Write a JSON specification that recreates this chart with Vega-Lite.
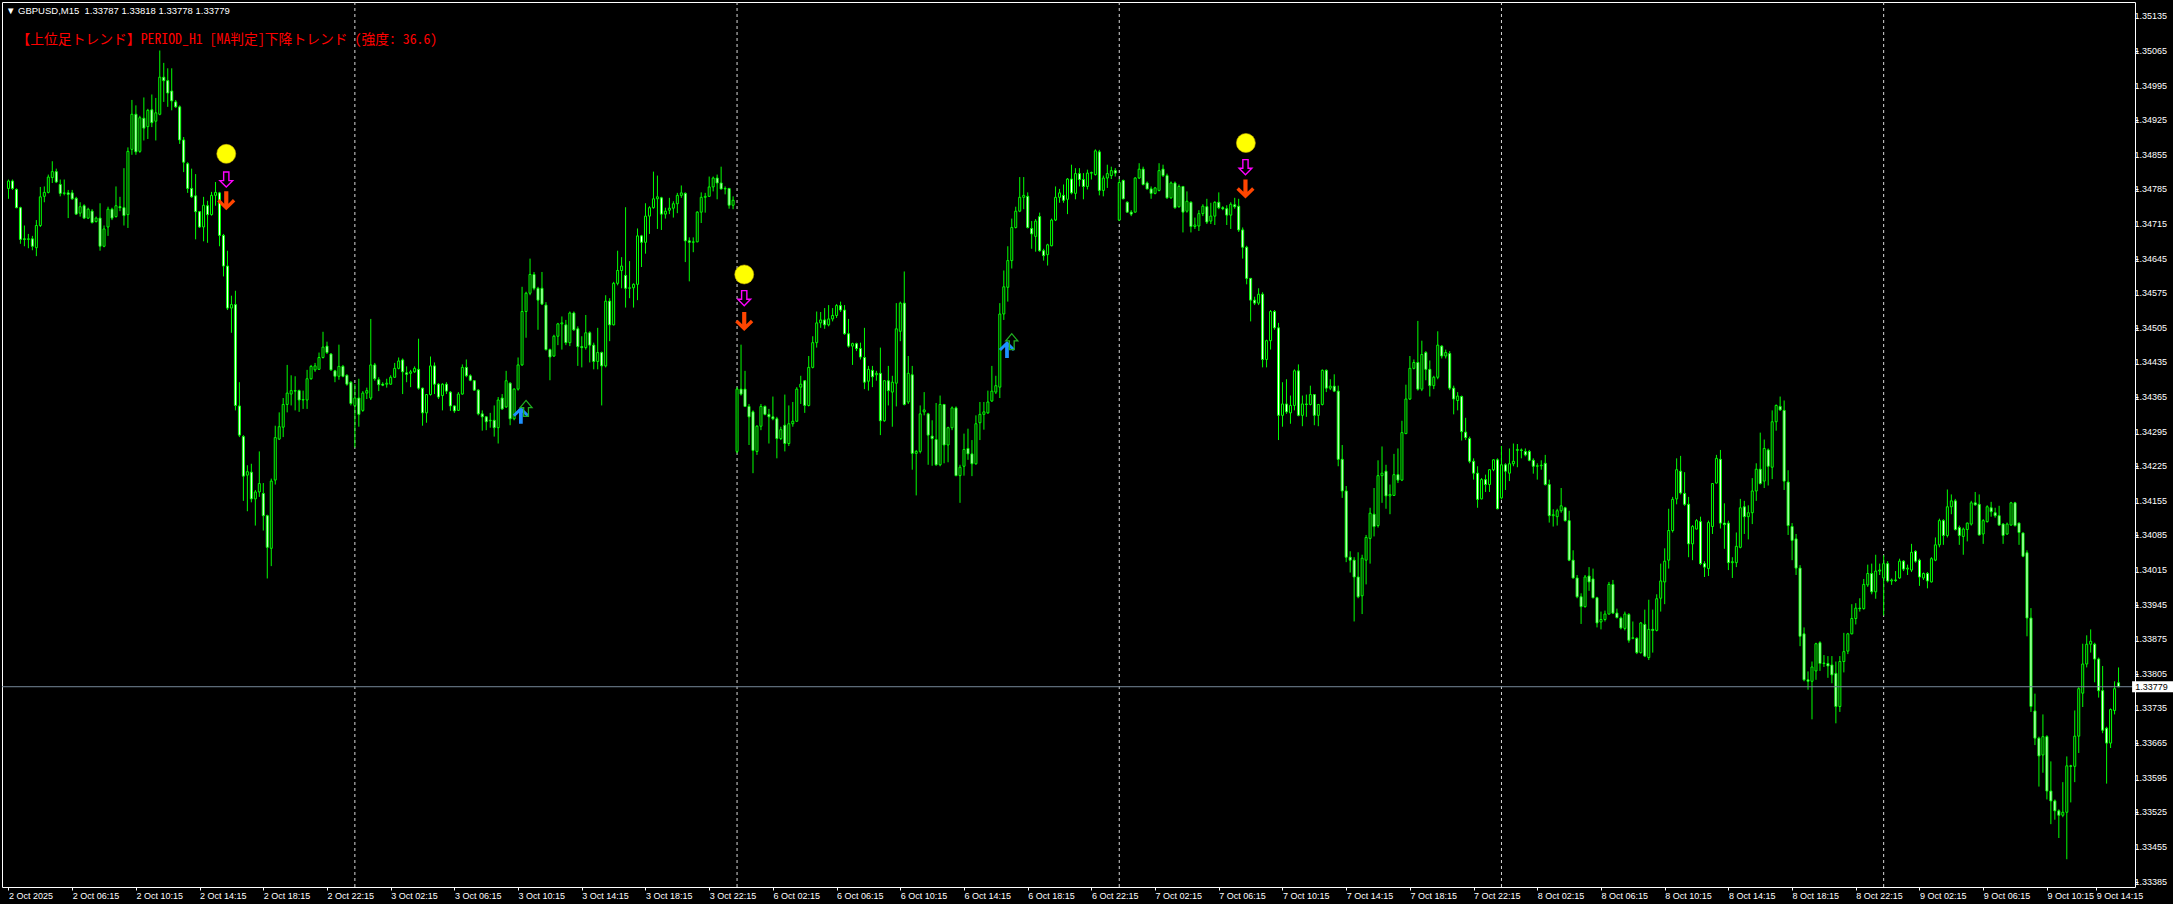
{
"$schema":"https://vega.github.io/schema/vega-lite/v6.json",
"width":2133,"height":885,
"autosize":{"type":"none"},
"padding":{"left":2,"top":2,"right":38,"bottom":17},
"background":"#000000",
"config":{"view":{"stroke":"#ffffff","strokeWidth":1,"fill":"#000000"},
"axis":{"domain":false,"grid":false,"labelColor":"#ffffff","tickColor":"#ffffff","labelFont":"Liberation Sans","labelFontSize":9,"labelOverlap":false,"labelBound":false,"labelFlush":false}},
"title":{"text":"▼\u00a0GBPUSD,M15\u00a0\u00a01.33787 1.33818 1.33778 1.33779","anchor":"start","frame":"group","orient":"top","offset":-14,"dx":4,"font":"Liberation Sans","fontSize":9.5,"fontWeight":"normal","color":"#ffffff"},
"datasets":{
"seps":[{"i":87},{"i":183},{"i":279},{"i":375},{"i":471}],
"last":[{"p":1.33779}],
"note":[{"t":"【上位足トレンド】PERIOD_H1 [MA判定]下降トレンド (強度: 36.6)"}],
"yt":[{"v":1.35135},{"v":1.35065},{"v":1.34995},{"v":1.34925},{"v":1.34855},{"v":1.34785},{"v":1.34715},{"v":1.34645},{"v":1.34575},{"v":1.34505},{"v":1.34435},{"v":1.34365},{"v":1.34295},{"v":1.34225},{"v":1.34155},{"v":1.34085},{"v":1.34015},{"v":1.33945},{"v":1.33875},{"v":1.33805},{"v":1.33735},{"v":1.33665},{"v":1.33595},{"v":1.33525},{"v":1.33455},{"v":1.33385}],
"sig":[{"i":54.7,"p":1.34857,"k":"dot"},{"i":54.7,"p":1.34805,"k":"hollowdown"},{"i":54.7,"p":1.34762,"k":"down"},
{"i":184.8,"p":1.34613,"k":"dot"},{"i":184.8,"p":1.34565,"k":"hollowdown"},{"i":184.8,"p":1.34518,"k":"down"},
{"i":310.8,"p":1.34879,"k":"dot"},{"i":310.7,"p":1.34830,"k":"hollowdown"},{"i":310.7,"p":1.34786,"k":"down"},
{"i":128.7,"p":1.34328,"k":"up"},{"i":130,"p":1.34342,"k":"hollowup"},
{"i":250.8,"p":1.34461,"k":"up"},{"i":252,"p":1.34477,"k":"hollowup"}],
"bars":[
{"i":0,"o":1.34787,"h":1.34805,"l":1.34766,"c":1.34802},
{"i":1,"o":1.34802,"h":1.34805,"l":1.34784,"c":1.34787},
{"i":2,"o":1.34785,"h":1.34787,"l":1.34747,"c":1.34748},
{"i":3,"o":1.34748,"h":1.34750,"l":1.34675,"c":1.34684},
{"i":4,"o":1.34685,"h":1.34712,"l":1.34670,"c":1.34684},
{"i":5,"o":1.34684,"h":1.34695,"l":1.34666,"c":1.34685},
{"i":6,"o":1.34685,"h":1.34691,"l":1.34662,"c":1.34670},
{"i":7,"o":1.34667,"h":1.34723,"l":1.34650,"c":1.34712},
{"i":8,"o":1.34712,"h":1.34790,"l":1.34709,"c":1.34770},
{"i":9,"o":1.34771,"h":1.34791,"l":1.34759,"c":1.34779},
{"i":10,"o":1.34779,"h":1.34815,"l":1.34777,"c":1.34810},
{"i":11,"o":1.34809,"h":1.34842,"l":1.34798,"c":1.34821},
{"i":12,"o":1.34821,"h":1.34827,"l":1.34798,"c":1.34800},
{"i":13,"o":1.34795,"h":1.34805,"l":1.34771,"c":1.34777},
{"i":14,"o":1.34777,"h":1.34805,"l":1.34773,"c":1.34778},
{"i":15,"o":1.34778,"h":1.34784,"l":1.34727,"c":1.34775},
{"i":16,"o":1.34778,"h":1.34784,"l":1.34764,"c":1.34766},
{"i":17,"o":1.34767,"h":1.34770,"l":1.34734,"c":1.34735},
{"i":18,"o":1.34737,"h":1.34759,"l":1.34730,"c":1.34750},
{"i":19,"o":1.34752,"h":1.34755,"l":1.34725,"c":1.34727},
{"i":20,"o":1.34727,"h":1.34748,"l":1.34725,"c":1.34745},
{"i":21,"o":1.34741,"h":1.34745,"l":1.34716,"c":1.34718},
{"i":22,"o":1.34720,"h":1.34730,"l":1.34718,"c":1.34727},
{"i":23,"o":1.34727,"h":1.34757,"l":1.34661,"c":1.34670},
{"i":24,"o":1.34670,"h":1.34712,"l":1.34668,"c":1.34705},
{"i":25,"o":1.34709,"h":1.34750,"l":1.34691,"c":1.34745},
{"i":26,"o":1.34745,"h":1.34748,"l":1.34723,"c":1.34727},
{"i":27,"o":1.34730,"h":1.34791,"l":1.34728,"c":1.34752},
{"i":28,"o":1.34750,"h":1.34770,"l":1.34741,"c":1.34748},
{"i":29,"o":1.34748,"h":1.34828,"l":1.34712,"c":1.34732},
{"i":30,"o":1.34734,"h":1.34870,"l":1.34707,"c":1.34862},
{"i":31,"o":1.34866,"h":1.34966,"l":1.34855,"c":1.34937},
{"i":32,"o":1.34937,"h":1.34955,"l":1.34855,"c":1.34861},
{"i":33,"o":1.34862,"h":1.34934,"l":1.34859,"c":1.34930},
{"i":34,"o":1.34929,"h":1.34971,"l":1.34884,"c":1.34909},
{"i":35,"o":1.34912,"h":1.34948,"l":1.34887,"c":1.34945},
{"i":36,"o":1.34946,"h":1.34977,"l":1.34911,"c":1.34920},
{"i":37,"o":1.34923,"h":1.34970,"l":1.34884,"c":1.34940},
{"i":38,"o":1.34937,"h":1.35066,"l":1.34935,"c":1.35012},
{"i":39,"o":1.35012,"h":1.35041,"l":1.34962,"c":1.35005},
{"i":40,"o":1.35005,"h":1.35030,"l":1.34952,"c":1.34980},
{"i":41,"o":1.34984,"h":1.35030,"l":1.34945,"c":1.34964},
{"i":42,"o":1.34962,"h":1.34966,"l":1.34950,"c":1.34952},
{"i":43,"o":1.34952,"h":1.34955,"l":1.34877,"c":1.34885},
{"i":44,"o":1.34885,"h":1.34891,"l":1.34820,"c":1.34840},
{"i":45,"o":1.34837,"h":1.34840,"l":1.34778,"c":1.34787},
{"i":46,"o":1.34787,"h":1.34827,"l":1.34768,"c":1.34770},
{"i":47,"o":1.34772,"h":1.34816,"l":1.34684,"c":1.34740},
{"i":48,"o":1.34740,"h":1.34741,"l":1.34707,"c":1.34709},
{"i":49,"o":1.34709,"h":1.34770,"l":1.34680,"c":1.34753},
{"i":50,"o":1.34752,"h":1.34762,"l":1.34677,"c":1.34734},
{"i":51,"o":1.34734,"h":1.34780,"l":1.34732,"c":1.34773},
{"i":52,"o":1.34773,"h":1.34800,"l":1.34752,"c":1.34779},
{"i":53,"o":1.34778,"h":1.34780,"l":1.34670,"c":1.34692},
{"i":54,"o":1.34692,"h":1.34695,"l":1.34609,"c":1.34630},
{"i":55,"o":1.34630,"h":1.34661,"l":1.34541,"c":1.34545},
{"i":56,"o":1.34545,"h":1.34570,"l":1.34495,"c":1.34552},
{"i":57,"o":1.34552,"h":1.34580,"l":1.34338,"c":1.34348},
{"i":58,"o":1.34347,"h":1.34395,"l":1.34284,"c":1.34288},
{"i":59,"o":1.34285,"h":1.34288,"l":1.34155,"c":1.34205},
{"i":60,"o":1.34207,"h":1.34227,"l":1.34134,"c":1.34214},
{"i":61,"o":1.34213,"h":1.34230,"l":1.34152,"c":1.34159},
{"i":62,"o":1.34159,"h":1.34177,"l":1.34105,"c":1.34173},
{"i":63,"o":1.34173,"h":1.34255,"l":1.34163,"c":1.34190},
{"i":64,"o":1.34170,"h":1.34191,"l":1.34095,"c":1.34125},
{"i":65,"o":1.34125,"h":1.34127,"l":1.33998,"c":1.34061},
{"i":66,"o":1.34059,"h":1.34200,"l":1.34023,"c":1.34195},
{"i":67,"o":1.34197,"h":1.34307,"l":1.34188,"c":1.34283},
{"i":68,"o":1.34280,"h":1.34334,"l":1.34278,"c":1.34305},
{"i":69,"o":1.34304,"h":1.34363,"l":1.34284,"c":1.34350},
{"i":70,"o":1.34350,"h":1.34430,"l":1.34334,"c":1.34373},
{"i":71,"o":1.34371,"h":1.34409,"l":1.34348,"c":1.34378},
{"i":72,"o":1.34378,"h":1.34407,"l":1.34338,"c":1.34377},
{"i":73,"o":1.34378,"h":1.34380,"l":1.34335,"c":1.34359},
{"i":74,"o":1.34359,"h":1.34378,"l":1.34341,"c":1.34360},
{"i":75,"o":1.34359,"h":1.34420,"l":1.34341,"c":1.34402},
{"i":76,"o":1.34402,"h":1.34430,"l":1.34400,"c":1.34427},
{"i":77,"o":1.34420,"h":1.34434,"l":1.34416,"c":1.34428},
{"i":78,"o":1.34421,"h":1.34455,"l":1.34420,"c":1.34445},
{"i":79,"o":1.34445,"h":1.34497,"l":1.34443,"c":1.34466},
{"i":80,"o":1.34468,"h":1.34477,"l":1.34452,"c":1.34455},
{"i":81,"o":1.34452,"h":1.34454,"l":1.34418,"c":1.34420},
{"i":82,"o":1.34418,"h":1.34420,"l":1.34395,"c":1.34407},
{"i":83,"o":1.34407,"h":1.34471,"l":1.34400,"c":1.34427},
{"i":84,"o":1.34427,"h":1.34430,"l":1.34405,"c":1.34407},
{"i":85,"o":1.34409,"h":1.34411,"l":1.34388,"c":1.34391},
{"i":86,"o":1.34395,"h":1.34397,"l":1.34348,"c":1.34352},
{"i":87,"o":1.34348,"h":1.34391,"l":1.34263,"c":1.34363},
{"i":88,"o":1.34363,"h":1.34402,"l":1.34305,"c":1.34330},
{"i":89,"o":1.34338,"h":1.34377,"l":1.34335,"c":1.34373},
{"i":90,"o":1.34373,"h":1.34384,"l":1.34361,"c":1.34378},
{"i":91,"o":1.34363,"h":1.34523,"l":1.34359,"c":1.34430},
{"i":92,"o":1.34430,"h":1.34434,"l":1.34398,"c":1.34402},
{"i":93,"o":1.34400,"h":1.34405,"l":1.34377,"c":1.34390},
{"i":94,"o":1.34391,"h":1.34395,"l":1.34387,"c":1.34389},
{"i":95,"o":1.34391,"h":1.34402,"l":1.34384,"c":1.34393},
{"i":96,"o":1.34391,"h":1.34409,"l":1.34390,"c":1.34405},
{"i":97,"o":1.34405,"h":1.34434,"l":1.34404,"c":1.34423},
{"i":98,"o":1.34423,"h":1.34445,"l":1.34421,"c":1.34438},
{"i":99,"o":1.34440,"h":1.34443,"l":1.34371,"c":1.34416},
{"i":100,"o":1.34414,"h":1.34427,"l":1.34395,"c":1.34411},
{"i":101,"o":1.34413,"h":1.34420,"l":1.34385,"c":1.34416},
{"i":102,"o":1.34416,"h":1.34427,"l":1.34414,"c":1.34423},
{"i":103,"o":1.34421,"h":1.34483,"l":1.34380,"c":1.34383},
{"i":104,"o":1.34383,"h":1.34384,"l":1.34307,"c":1.34333},
{"i":105,"o":1.34333,"h":1.34371,"l":1.34313,"c":1.34370},
{"i":106,"o":1.34370,"h":1.34447,"l":1.34368,"c":1.34428},
{"i":107,"o":1.34428,"h":1.34435,"l":1.34371,"c":1.34391},
{"i":108,"o":1.34391,"h":1.34393,"l":1.34361,"c":1.34365},
{"i":109,"o":1.34368,"h":1.34393,"l":1.34338,"c":1.34391},
{"i":110,"o":1.34391,"h":1.34395,"l":1.34371,"c":1.34377},
{"i":111,"o":1.34375,"h":1.34377,"l":1.34337,"c":1.34347},
{"i":112,"o":1.34347,"h":1.34348,"l":1.34333,"c":1.34337},
{"i":113,"o":1.34338,"h":1.34375,"l":1.34337,"c":1.34371},
{"i":114,"o":1.34371,"h":1.34431,"l":1.34370,"c":1.34425},
{"i":115,"o":1.34425,"h":1.34441,"l":1.34405,"c":1.34408},
{"i":116,"o":1.34408,"h":1.34411,"l":1.34397,"c":1.34399},
{"i":117,"o":1.34398,"h":1.34399,"l":1.34378,"c":1.34379},
{"i":118,"o":1.34379,"h":1.34381,"l":1.34328,"c":1.34331},
{"i":119,"o":1.34331,"h":1.34338,"l":1.34297,"c":1.34325},
{"i":120,"o":1.34325,"h":1.34326,"l":1.34298,"c":1.34315},
{"i":121,"o":1.34317,"h":1.34333,"l":1.34303,"c":1.34318},
{"i":122,"o":1.34318,"h":1.34348,"l":1.34285,"c":1.34303},
{"i":123,"o":1.34303,"h":1.34365,"l":1.34271,"c":1.34359},
{"i":124,"o":1.34363,"h":1.34371,"l":1.34339,"c":1.34341},
{"i":125,"o":1.34345,"h":1.34418,"l":1.34343,"c":1.34398},
{"i":126,"o":1.34393,"h":1.34395,"l":1.34308,"c":1.34321},
{"i":127,"o":1.34321,"h":1.34383,"l":1.34318,"c":1.34381},
{"i":128,"o":1.34381,"h":1.34445,"l":1.34378,"c":1.34430},
{"i":129,"o":1.34430,"h":1.34588,"l":1.34428,"c":1.34538},
{"i":130,"o":1.34538,"h":1.34578,"l":1.34485,"c":1.34575},
{"i":131,"o":1.34575,"h":1.34645,"l":1.34571,"c":1.34613},
{"i":132,"o":1.34613,"h":1.34618,"l":1.34581,"c":1.34585},
{"i":133,"o":1.34585,"h":1.34588,"l":1.34501,"c":1.34561},
{"i":134,"o":1.34585,"h":1.34618,"l":1.34551,"c":1.34553},
{"i":135,"o":1.34551,"h":1.34557,"l":1.34459,"c":1.34461},
{"i":136,"o":1.34461,"h":1.34463,"l":1.34399,"c":1.34446},
{"i":137,"o":1.34448,"h":1.34491,"l":1.34446,"c":1.34488},
{"i":138,"o":1.34488,"h":1.34515,"l":1.34470,"c":1.34513},
{"i":139,"o":1.34513,"h":1.34528,"l":1.34461,"c":1.34515},
{"i":140,"o":1.34511,"h":1.34521,"l":1.34470,"c":1.34475},
{"i":141,"o":1.34475,"h":1.34538,"l":1.34468,"c":1.34535},
{"i":142,"o":1.34535,"h":1.34538,"l":1.34499,"c":1.34501},
{"i":143,"o":1.34503,"h":1.34508,"l":1.34428,"c":1.34467},
{"i":144,"o":1.34467,"h":1.34488,"l":1.34425,"c":1.34465},
{"i":145,"o":1.34465,"h":1.34531,"l":1.34461,"c":1.34495},
{"i":146,"o":1.34495,"h":1.34498,"l":1.34435,"c":1.34470},
{"i":147,"o":1.34470,"h":1.34475,"l":1.34421,"c":1.34437},
{"i":148,"o":1.34437,"h":1.34505,"l":1.34421,"c":1.34455},
{"i":149,"o":1.34455,"h":1.34457,"l":1.34348,"c":1.34428},
{"i":150,"o":1.34428,"h":1.34571,"l":1.34425,"c":1.34559},
{"i":151,"o":1.34559,"h":1.34565,"l":1.34478,"c":1.34511},
{"i":152,"o":1.34511,"h":1.34598,"l":1.34510,"c":1.34595},
{"i":153,"o":1.34595,"h":1.34661,"l":1.34591,"c":1.34621},
{"i":154,"o":1.34621,"h":1.34648,"l":1.34585,"c":1.34630},
{"i":155,"o":1.34611,"h":1.34749,"l":1.34546,"c":1.34585},
{"i":156,"o":1.34585,"h":1.34640,"l":1.34565,"c":1.34586},
{"i":157,"o":1.34586,"h":1.34595,"l":1.34546,"c":1.34593},
{"i":158,"o":1.34593,"h":1.34706,"l":1.34561,"c":1.34691},
{"i":159,"o":1.34691,"h":1.34693,"l":1.34628,"c":1.34678},
{"i":160,"o":1.34678,"h":1.34757,"l":1.34655,"c":1.34731},
{"i":161,"o":1.34731,"h":1.34751,"l":1.34695,"c":1.34748},
{"i":162,"o":1.34748,"h":1.34821,"l":1.34746,"c":1.34766},
{"i":163,"o":1.34766,"h":1.34813,"l":1.34705,"c":1.34770},
{"i":164,"o":1.34768,"h":1.34770,"l":1.34703,"c":1.34735},
{"i":165,"o":1.34735,"h":1.34748,"l":1.34726,"c":1.34741},
{"i":166,"o":1.34743,"h":1.34768,"l":1.34735,"c":1.34747},
{"i":167,"o":1.34747,"h":1.34761,"l":1.34728,"c":1.34756},
{"i":168,"o":1.34756,"h":1.34778,"l":1.34737,"c":1.34773},
{"i":169,"o":1.34773,"h":1.34793,"l":1.34768,"c":1.34778},
{"i":170,"o":1.34777,"h":1.34779,"l":1.34638,"c":1.34681},
{"i":171,"o":1.34681,"h":1.34688,"l":1.34599,"c":1.34678},
{"i":172,"o":1.34678,"h":1.34688,"l":1.34658,"c":1.34679},
{"i":173,"o":1.34679,"h":1.34741,"l":1.34678,"c":1.34739},
{"i":174,"o":1.34739,"h":1.34779,"l":1.34717,"c":1.34769},
{"i":175,"o":1.34769,"h":1.34778,"l":1.34738,"c":1.34771},
{"i":176,"o":1.34771,"h":1.34811,"l":1.34770,"c":1.34790},
{"i":177,"o":1.34790,"h":1.34811,"l":1.34781,"c":1.34808},
{"i":178,"o":1.34808,"h":1.34815,"l":1.34765,"c":1.34798},
{"i":179,"o":1.34798,"h":1.34831,"l":1.34785,"c":1.34786},
{"i":180,"o":1.34786,"h":1.34791,"l":1.34775,"c":1.34787},
{"i":181,"o":1.34787,"h":1.34788,"l":1.34746,"c":1.34753},
{"i":182,"o":1.34753,"h":1.34771,"l":1.34745,"c":1.34763},
{"i":183,"o":1.34255,"h":1.34385,"l":1.34251,"c":1.34381},
{"i":184,"o":1.34381,"h":1.34471,"l":1.34368,"c":1.34371},
{"i":185,"o":1.34381,"h":1.34418,"l":1.34345,"c":1.34346},
{"i":186,"o":1.34346,"h":1.34351,"l":1.34268,"c":1.34325},
{"i":187,"o":1.34335,"h":1.34338,"l":1.34211,"c":1.34257},
{"i":188,"o":1.34255,"h":1.34308,"l":1.34248,"c":1.34306},
{"i":189,"o":1.34306,"h":1.34351,"l":1.34298,"c":1.34346},
{"i":190,"o":1.34346,"h":1.34348,"l":1.34328,"c":1.34330},
{"i":191,"o":1.34330,"h":1.34341,"l":1.34271,"c":1.34325},
{"i":192,"o":1.34325,"h":1.34366,"l":1.34318,"c":1.34321},
{"i":193,"o":1.34321,"h":1.34325,"l":1.34241,"c":1.34281},
{"i":194,"o":1.34281,"h":1.34305,"l":1.34278,"c":1.34299},
{"i":195,"o":1.34308,"h":1.34370,"l":1.34255,"c":1.34271},
{"i":196,"o":1.34271,"h":1.34348,"l":1.34266,"c":1.34311},
{"i":197,"o":1.34311,"h":1.34355,"l":1.34305,"c":1.34316},
{"i":198,"o":1.34316,"h":1.34385,"l":1.34315,"c":1.34381},
{"i":199,"o":1.34385,"h":1.34408,"l":1.34351,"c":1.34391},
{"i":200,"o":1.34398,"h":1.34399,"l":1.34333,"c":1.34348},
{"i":201,"o":1.34348,"h":1.34448,"l":1.34346,"c":1.34425},
{"i":202,"o":1.34425,"h":1.34488,"l":1.34423,"c":1.34475},
{"i":203,"o":1.34475,"h":1.34538,"l":1.34465,"c":1.34515},
{"i":204,"o":1.34515,"h":1.34537,"l":1.34505,"c":1.34521},
{"i":205,"o":1.34521,"h":1.34545,"l":1.34503,"c":1.34511},
{"i":206,"o":1.34511,"h":1.34551,"l":1.34508,"c":1.34523},
{"i":207,"o":1.34523,"h":1.34545,"l":1.34518,"c":1.34530},
{"i":208,"o":1.34530,"h":1.34553,"l":1.34525,"c":1.34550},
{"i":209,"o":1.34550,"h":1.34558,"l":1.34537,"c":1.34541},
{"i":210,"o":1.34541,"h":1.34551,"l":1.34491,"c":1.34493},
{"i":211,"o":1.34493,"h":1.34523,"l":1.34465,"c":1.34468},
{"i":212,"o":1.34468,"h":1.34475,"l":1.34430,"c":1.34473},
{"i":213,"o":1.34473,"h":1.34475,"l":1.34458,"c":1.34463},
{"i":214,"o":1.34463,"h":1.34475,"l":1.34441,"c":1.34446},
{"i":215,"o":1.34445,"h":1.34505,"l":1.34381,"c":1.34395},
{"i":216,"o":1.34397,"h":1.34428,"l":1.34378,"c":1.34421},
{"i":217,"o":1.34419,"h":1.34428,"l":1.34385,"c":1.34406},
{"i":218,"o":1.34410,"h":1.34418,"l":1.34398,"c":1.34413},
{"i":219,"o":1.34413,"h":1.34465,"l":1.34288,"c":1.34317},
{"i":220,"o":1.34317,"h":1.34399,"l":1.34315,"c":1.34398},
{"i":221,"o":1.34398,"h":1.34428,"l":1.34348,"c":1.34378},
{"i":222,"o":1.34375,"h":1.34408,"l":1.34305,"c":1.34395},
{"i":223,"o":1.34393,"h":1.34555,"l":1.34346,"c":1.34503},
{"i":224,"o":1.34498,"h":1.34558,"l":1.34478,"c":1.34555},
{"i":225,"o":1.34555,"h":1.34619,"l":1.34348,"c":1.34350},
{"i":226,"o":1.34355,"h":1.34448,"l":1.34351,"c":1.34413},
{"i":227,"o":1.34410,"h":1.34428,"l":1.34218,"c":1.34251},
{"i":228,"o":1.34251,"h":1.34258,"l":1.34166,"c":1.34255},
{"i":229,"o":1.34255,"h":1.34348,"l":1.34251,"c":1.34331},
{"i":230,"o":1.34335,"h":1.34375,"l":1.34328,"c":1.34339},
{"i":231,"o":1.34331,"h":1.34333,"l":1.34228,"c":1.34288},
{"i":232,"o":1.34286,"h":1.34318,"l":1.34226,"c":1.34281},
{"i":233,"o":1.34279,"h":1.34353,"l":1.34226,"c":1.34228},
{"i":234,"o":1.34228,"h":1.34368,"l":1.34225,"c":1.34350},
{"i":235,"o":1.34350,"h":1.34351,"l":1.34231,"c":1.34268},
{"i":236,"o":1.34268,"h":1.34305,"l":1.34233,"c":1.34303},
{"i":237,"o":1.34303,"h":1.34346,"l":1.34298,"c":1.34343},
{"i":238,"o":1.34343,"h":1.34346,"l":1.34205,"c":1.34206},
{"i":239,"o":1.34206,"h":1.34228,"l":1.34151,"c":1.34223},
{"i":240,"o":1.34225,"h":1.34291,"l":1.34206,"c":1.34259},
{"i":241,"o":1.34261,"h":1.34301,"l":1.34238,"c":1.34250},
{"i":242,"o":1.34250,"h":1.34278,"l":1.34205,"c":1.34230},
{"i":243,"o":1.34230,"h":1.34328,"l":1.34228,"c":1.34311},
{"i":244,"o":1.34313,"h":1.34355,"l":1.34278,"c":1.34330},
{"i":245,"o":1.34330,"h":1.34355,"l":1.34299,"c":1.34335},
{"i":246,"o":1.34333,"h":1.34378,"l":1.34331,"c":1.34355},
{"i":247,"o":1.34357,"h":1.34428,"l":1.34355,"c":1.34377},
{"i":248,"o":1.34375,"h":1.34408,"l":1.34371,"c":1.34388},
{"i":249,"o":1.34385,"h":1.34555,"l":1.34363,"c":1.34533},
{"i":250,"o":1.34533,"h":1.34621,"l":1.34521,"c":1.34588},
{"i":251,"o":1.34587,"h":1.34670,"l":1.34558,"c":1.34641},
{"i":252,"o":1.34641,"h":1.34726,"l":1.34625,"c":1.34708},
{"i":253,"o":1.34708,"h":1.34750,"l":1.34706,"c":1.34741},
{"i":254,"o":1.34741,"h":1.34810,"l":1.34739,"c":1.34769},
{"i":255,"o":1.34769,"h":1.34810,"l":1.34745,"c":1.34773},
{"i":256,"o":1.34771,"h":1.34779,"l":1.34706,"c":1.34708},
{"i":257,"o":1.34706,"h":1.34721,"l":1.34665,"c":1.34695},
{"i":258,"o":1.34690,"h":1.34725,"l":1.34659,"c":1.34721},
{"i":259,"o":1.34730,"h":1.34738,"l":1.34659,"c":1.34661},
{"i":260,"o":1.34661,"h":1.34665,"l":1.34641,"c":1.34651},
{"i":261,"o":1.34653,"h":1.34675,"l":1.34631,"c":1.34673},
{"i":262,"o":1.34671,"h":1.34726,"l":1.34670,"c":1.34723},
{"i":263,"o":1.34723,"h":1.34791,"l":1.34721,"c":1.34769},
{"i":264,"o":1.34769,"h":1.34786,"l":1.34758,"c":1.34778},
{"i":265,"o":1.34773,"h":1.34795,"l":1.34758,"c":1.34763},
{"i":266,"o":1.34765,"h":1.34808,"l":1.34735,"c":1.34806},
{"i":267,"o":1.34806,"h":1.34835,"l":1.34775,"c":1.34778},
{"i":268,"o":1.34777,"h":1.34828,"l":1.34765,"c":1.34817},
{"i":269,"o":1.34817,"h":1.34828,"l":1.34791,"c":1.34805},
{"i":270,"o":1.34805,"h":1.34818,"l":1.34765,"c":1.34791},
{"i":271,"o":1.34791,"h":1.34825,"l":1.34785,"c":1.34818},
{"i":272,"o":1.34818,"h":1.34821,"l":1.34805,"c":1.34819},
{"i":273,"o":1.34815,"h":1.34866,"l":1.34813,"c":1.34863},
{"i":274,"o":1.34861,"h":1.34865,"l":1.34773,"c":1.34783},
{"i":275,"o":1.34783,"h":1.34813,"l":1.34771,"c":1.34808},
{"i":276,"o":1.34808,"h":1.34835,"l":1.34788,"c":1.34817},
{"i":277,"o":1.34813,"h":1.34831,"l":1.34806,"c":1.34823},
{"i":278,"o":1.34823,"h":1.34828,"l":1.34811,"c":1.34818},
{"i":279,"o":1.34723,"h":1.34806,"l":1.34721,"c":1.34799},
{"i":280,"o":1.34803,"h":1.34805,"l":1.34765,"c":1.34766},
{"i":281,"o":1.34759,"h":1.34761,"l":1.34738,"c":1.34739},
{"i":282,"o":1.34739,"h":1.34743,"l":1.34731,"c":1.34735},
{"i":283,"o":1.34739,"h":1.34810,"l":1.34738,"c":1.34808},
{"i":284,"o":1.34808,"h":1.34838,"l":1.34806,"c":1.34826},
{"i":285,"o":1.34826,"h":1.34831,"l":1.34793,"c":1.34795},
{"i":286,"o":1.34798,"h":1.34801,"l":1.34785,"c":1.34786},
{"i":287,"o":1.34786,"h":1.34791,"l":1.34766,"c":1.34777},
{"i":288,"o":1.34777,"h":1.34790,"l":1.34775,"c":1.34788},
{"i":289,"o":1.34783,"h":1.34838,"l":1.34781,"c":1.34823},
{"i":290,"o":1.34826,"h":1.34835,"l":1.34810,"c":1.34813},
{"i":291,"o":1.34813,"h":1.34817,"l":1.34766,"c":1.34768},
{"i":292,"o":1.34768,"h":1.34801,"l":1.34766,"c":1.34798},
{"i":293,"o":1.34798,"h":1.34801,"l":1.34746,"c":1.34748},
{"i":294,"o":1.34750,"h":1.34795,"l":1.34748,"c":1.34791},
{"i":295,"o":1.34791,"h":1.34791,"l":1.34698,"c":1.34739},
{"i":296,"o":1.34741,"h":1.34781,"l":1.34738,"c":1.34761},
{"i":297,"o":1.34759,"h":1.34761,"l":1.34698,"c":1.34710},
{"i":298,"o":1.34710,"h":1.34728,"l":1.34705,"c":1.34713},
{"i":299,"o":1.34711,"h":1.34743,"l":1.34701,"c":1.34736},
{"i":300,"o":1.34736,"h":1.34755,"l":1.34731,"c":1.34751},
{"i":301,"o":1.34750,"h":1.34766,"l":1.34715,"c":1.34719},
{"i":302,"o":1.34721,"h":1.34758,"l":1.34715,"c":1.34731},
{"i":303,"o":1.34731,"h":1.34761,"l":1.34713,"c":1.34759},
{"i":304,"o":1.34759,"h":1.34779,"l":1.34745,"c":1.34748},
{"i":305,"o":1.34748,"h":1.34751,"l":1.34743,"c":1.34746},
{"i":306,"o":1.34746,"h":1.34753,"l":1.34713,"c":1.34733},
{"i":307,"o":1.34733,"h":1.34759,"l":1.34705,"c":1.34755},
{"i":308,"o":1.34754,"h":1.34768,"l":1.34746,"c":1.34750},
{"i":309,"o":1.34751,"h":1.34766,"l":1.34699,"c":1.34703},
{"i":310,"o":1.34703,"h":1.34708,"l":1.34645,"c":1.34668},
{"i":311,"o":1.34668,"h":1.34671,"l":1.34593,"c":1.34605},
{"i":312,"o":1.34605,"h":1.34606,"l":1.34518,"c":1.34561},
{"i":313,"o":1.34561,"h":1.34568,"l":1.34551,"c":1.34555},
{"i":314,"o":1.34555,"h":1.34585,"l":1.34551,"c":1.34573},
{"i":315,"o":1.34573,"h":1.34577,"l":1.34425,"c":1.34441},
{"i":316,"o":1.34441,"h":1.34481,"l":1.34425,"c":1.34479},
{"i":317,"o":1.34479,"h":1.34541,"l":1.34461,"c":1.34538},
{"i":318,"o":1.34538,"h":1.34541,"l":1.34501,"c":1.34505},
{"i":319,"o":1.34505,"h":1.34515,"l":1.34278,"c":1.34328},
{"i":320,"o":1.34328,"h":1.34395,"l":1.34305,"c":1.34351},
{"i":321,"o":1.34351,"h":1.34401,"l":1.34331,"c":1.34335},
{"i":322,"o":1.34333,"h":1.34368,"l":1.34311,"c":1.34348},
{"i":323,"o":1.34348,"h":1.34421,"l":1.34338,"c":1.34418},
{"i":324,"o":1.34418,"h":1.34431,"l":1.34326,"c":1.34328},
{"i":325,"o":1.34328,"h":1.34368,"l":1.34306,"c":1.34351},
{"i":326,"o":1.34351,"h":1.34370,"l":1.34325,"c":1.34350},
{"i":327,"o":1.34350,"h":1.34388,"l":1.34348,"c":1.34370},
{"i":328,"o":1.34370,"h":1.34371,"l":1.34308,"c":1.34328},
{"i":329,"o":1.34328,"h":1.34351,"l":1.34306,"c":1.34350},
{"i":330,"o":1.34350,"h":1.34421,"l":1.34348,"c":1.34419},
{"i":331,"o":1.34419,"h":1.34421,"l":1.34375,"c":1.34383},
{"i":332,"o":1.34383,"h":1.34401,"l":1.34379,"c":1.34387},
{"i":333,"o":1.34387,"h":1.34411,"l":1.34375,"c":1.34377},
{"i":334,"o":1.34377,"h":1.34388,"l":1.34225,"c":1.34239},
{"i":335,"o":1.34239,"h":1.34268,"l":1.34161,"c":1.34175},
{"i":336,"o":1.34175,"h":1.34185,"l":1.34031,"c":1.34041},
{"i":337,"o":1.34041,"h":1.34053,"l":1.34010,"c":1.34035},
{"i":338,"o":1.34035,"h":1.34041,"l":1.33911,"c":1.34001},
{"i":339,"o":1.34001,"h":1.34051,"l":1.33958,"c":1.33961},
{"i":340,"o":1.33963,"h":1.34046,"l":1.33926,"c":1.34039},
{"i":341,"o":1.34035,"h":1.34086,"l":1.33986,"c":1.34081},
{"i":342,"o":1.34079,"h":1.34141,"l":1.34028,"c":1.34130},
{"i":343,"o":1.34128,"h":1.34181,"l":1.34083,"c":1.34103},
{"i":344,"o":1.34105,"h":1.34237,"l":1.34101,"c":1.34206},
{"i":345,"o":1.34206,"h":1.34265,"l":1.34151,"c":1.34211},
{"i":346,"o":1.34215,"h":1.34228,"l":1.34139,"c":1.34165},
{"i":347,"o":1.34165,"h":1.34188,"l":1.34128,"c":1.34168},
{"i":348,"o":1.34166,"h":1.34250,"l":1.34165,"c":1.34208},
{"i":349,"o":1.34208,"h":1.34261,"l":1.34191,"c":1.34197},
{"i":350,"o":1.34197,"h":1.34317,"l":1.34195,"c":1.34293},
{"i":351,"o":1.34291,"h":1.34390,"l":1.34290,"c":1.34361},
{"i":352,"o":1.34361,"h":1.34448,"l":1.34359,"c":1.34423},
{"i":353,"o":1.34423,"h":1.34441,"l":1.34421,"c":1.34435},
{"i":354,"o":1.34435,"h":1.34519,"l":1.34378,"c":1.34381},
{"i":355,"o":1.34381,"h":1.34479,"l":1.34377,"c":1.34451},
{"i":356,"o":1.34455,"h":1.34458,"l":1.34399,"c":1.34421},
{"i":357,"o":1.34421,"h":1.34439,"l":1.34366,"c":1.34388},
{"i":358,"o":1.34388,"h":1.34408,"l":1.34381,"c":1.34405},
{"i":359,"o":1.34405,"h":1.34498,"l":1.34401,"c":1.34470},
{"i":360,"o":1.34468,"h":1.34470,"l":1.34443,"c":1.34448},
{"i":361,"o":1.34448,"h":1.34461,"l":1.34443,"c":1.34455},
{"i":362,"o":1.34453,"h":1.34458,"l":1.34379,"c":1.34383},
{"i":363,"o":1.34383,"h":1.34388,"l":1.34330,"c":1.34361},
{"i":364,"o":1.34358,"h":1.34375,"l":1.34338,"c":1.34367},
{"i":365,"o":1.34366,"h":1.34368,"l":1.34277,"c":1.34295},
{"i":366,"o":1.34294,"h":1.34323,"l":1.34278,"c":1.34283},
{"i":367,"o":1.34281,"h":1.34285,"l":1.34231,"c":1.34235},
{"i":368,"o":1.34235,"h":1.34241,"l":1.34198,"c":1.34211},
{"i":369,"o":1.34211,"h":1.34225,"l":1.34141,"c":1.34158},
{"i":370,"o":1.34159,"h":1.34201,"l":1.34158,"c":1.34198},
{"i":371,"o":1.34198,"h":1.34208,"l":1.34173,"c":1.34188},
{"i":372,"o":1.34188,"h":1.34219,"l":1.34173,"c":1.34218},
{"i":373,"o":1.34218,"h":1.34239,"l":1.34215,"c":1.34238},
{"i":374,"o":1.34238,"h":1.34241,"l":1.34138,"c":1.34139},
{"i":375,"o":1.34161,"h":1.34266,"l":1.34158,"c":1.34228},
{"i":376,"o":1.34228,"h":1.34231,"l":1.34177,"c":1.34215},
{"i":377,"o":1.34211,"h":1.34261,"l":1.34195,"c":1.34230},
{"i":378,"o":1.34230,"h":1.34271,"l":1.34225,"c":1.34235},
{"i":379,"o":1.34257,"h":1.34270,"l":1.34223,"c":1.34259},
{"i":380,"o":1.34258,"h":1.34261,"l":1.34241,"c":1.34257},
{"i":381,"o":1.34255,"h":1.34261,"l":1.34245,"c":1.34248},
{"i":382,"o":1.34255,"h":1.34258,"l":1.34235,"c":1.34237},
{"i":383,"o":1.34237,"h":1.34241,"l":1.34210,"c":1.34225},
{"i":384,"o":1.34225,"h":1.34231,"l":1.34198,"c":1.34226},
{"i":385,"o":1.34226,"h":1.34237,"l":1.34218,"c":1.34227},
{"i":386,"o":1.34231,"h":1.34248,"l":1.34186,"c":1.34188},
{"i":387,"o":1.34188,"h":1.34198,"l":1.34111,"c":1.34125},
{"i":388,"o":1.34125,"h":1.34138,"l":1.34103,"c":1.34127},
{"i":389,"o":1.34123,"h":1.34139,"l":1.34105,"c":1.34135},
{"i":390,"o":1.34135,"h":1.34181,"l":1.34131,"c":1.34145},
{"i":391,"o":1.34141,"h":1.34143,"l":1.34113,"c":1.34115},
{"i":392,"o":1.34115,"h":1.34135,"l":1.34033,"c":1.34035},
{"i":393,"o":1.34035,"h":1.34055,"l":1.33998,"c":1.33999},
{"i":394,"o":1.33999,"h":1.34005,"l":1.33958,"c":1.33961},
{"i":395,"o":1.33961,"h":1.33968,"l":1.33906,"c":1.33941},
{"i":396,"o":1.33941,"h":1.34005,"l":1.33939,"c":1.34001},
{"i":397,"o":1.34003,"h":1.34021,"l":1.33973,"c":1.33991},
{"i":398,"o":1.33997,"h":1.34018,"l":1.33958,"c":1.33959},
{"i":399,"o":1.33959,"h":1.33961,"l":1.33899,"c":1.33908},
{"i":400,"o":1.33910,"h":1.33931,"l":1.33895,"c":1.33915},
{"i":401,"o":1.33915,"h":1.33933,"l":1.33911,"c":1.33926},
{"i":402,"o":1.33926,"h":1.33991,"l":1.33925,"c":1.33986},
{"i":403,"o":1.33986,"h":1.33995,"l":1.33926,"c":1.33928},
{"i":404,"o":1.33928,"h":1.33937,"l":1.33917,"c":1.33919},
{"i":405,"o":1.33918,"h":1.33921,"l":1.33895,"c":1.33898},
{"i":406,"o":1.33897,"h":1.33931,"l":1.33893,"c":1.33926},
{"i":407,"o":1.33925,"h":1.33928,"l":1.33868,"c":1.33873},
{"i":408,"o":1.33877,"h":1.33911,"l":1.33875,"c":1.33878},
{"i":409,"o":1.33877,"h":1.33879,"l":1.33845,"c":1.33848},
{"i":410,"o":1.33848,"h":1.33910,"l":1.33846,"c":1.33908},
{"i":411,"o":1.33905,"h":1.33935,"l":1.33839,"c":1.33841},
{"i":412,"o":1.33838,"h":1.33955,"l":1.33833,"c":1.33895},
{"i":413,"o":1.33895,"h":1.33935,"l":1.33848,"c":1.33893},
{"i":414,"o":1.33893,"h":1.33966,"l":1.33891,"c":1.33957},
{"i":415,"o":1.33958,"h":1.34028,"l":1.33931,"c":1.33993},
{"i":416,"o":1.33991,"h":1.34059,"l":1.33946,"c":1.34033},
{"i":417,"o":1.34035,"h":1.34139,"l":1.34018,"c":1.34095},
{"i":418,"o":1.34095,"h":1.34163,"l":1.34091,"c":1.34158},
{"i":419,"o":1.34159,"h":1.34241,"l":1.34148,"c":1.34218},
{"i":420,"o":1.34215,"h":1.34246,"l":1.34168,"c":1.34171},
{"i":421,"o":1.34170,"h":1.34213,"l":1.34145,"c":1.34148},
{"i":422,"o":1.34148,"h":1.34163,"l":1.34041,"c":1.34068},
{"i":423,"o":1.34068,"h":1.34106,"l":1.34035,"c":1.34103},
{"i":424,"o":1.34098,"h":1.34118,"l":1.34097,"c":1.34115},
{"i":425,"o":1.34113,"h":1.34123,"l":1.34025,"c":1.34028},
{"i":426,"o":1.34028,"h":1.34033,"l":1.34001,"c":1.34021},
{"i":427,"o":1.34018,"h":1.34115,"l":1.34003,"c":1.34111},
{"i":428,"o":1.34103,"h":1.34191,"l":1.34088,"c":1.34190},
{"i":429,"o":1.34191,"h":1.34248,"l":1.34190,"c":1.34241},
{"i":430,"o":1.34239,"h":1.34258,"l":1.34099,"c":1.34110},
{"i":431,"o":1.34110,"h":1.34150,"l":1.34058,"c":1.34107},
{"i":432,"o":1.34110,"h":1.34115,"l":1.34015,"c":1.34030},
{"i":433,"o":1.34030,"h":1.34041,"l":1.33999,"c":1.34032},
{"i":434,"o":1.34030,"h":1.34091,"l":1.34021,"c":1.34063},
{"i":435,"o":1.34061,"h":1.34159,"l":1.34059,"c":1.34141},
{"i":436,"o":1.34143,"h":1.34155,"l":1.34088,"c":1.34123},
{"i":437,"o":1.34123,"h":1.34146,"l":1.34077,"c":1.34131},
{"i":438,"o":1.34131,"h":1.34201,"l":1.34108,"c":1.34175},
{"i":439,"o":1.34175,"h":1.34231,"l":1.34155,"c":1.34219},
{"i":440,"o":1.34219,"h":1.34293,"l":1.34188,"c":1.34190},
{"i":441,"o":1.34195,"h":1.34279,"l":1.34181,"c":1.34261},
{"i":442,"o":1.34258,"h":1.34261,"l":1.34186,"c":1.34225},
{"i":443,"o":1.34223,"h":1.34338,"l":1.34199,"c":1.34315},
{"i":444,"o":1.34315,"h":1.34350,"l":1.34297,"c":1.34348},
{"i":445,"o":1.34346,"h":1.34366,"l":1.34337,"c":1.34339},
{"i":446,"o":1.34338,"h":1.34358,"l":1.34177,"c":1.34195},
{"i":447,"o":1.34193,"h":1.34217,"l":1.34086,"c":1.34105},
{"i":448,"o":1.34103,"h":1.34110,"l":1.34035,"c":1.34075},
{"i":449,"o":1.34078,"h":1.34088,"l":1.34005,"c":1.34019},
{"i":450,"o":1.34019,"h":1.34025,"l":1.33861,"c":1.33881},
{"i":451,"o":1.33886,"h":1.33899,"l":1.33790,"c":1.33793},
{"i":452,"o":1.33793,"h":1.33810,"l":1.33773,"c":1.33790},
{"i":453,"o":1.33790,"h":1.33830,"l":1.33713,"c":1.33819},
{"i":454,"o":1.33811,"h":1.33868,"l":1.33793,"c":1.33866},
{"i":455,"o":1.33868,"h":1.33871,"l":1.33811,"c":1.33826},
{"i":456,"o":1.33826,"h":1.33843,"l":1.33819,"c":1.33827},
{"i":457,"o":1.33826,"h":1.33841,"l":1.33797,"c":1.33821},
{"i":458,"o":1.33823,"h":1.33841,"l":1.33786,"c":1.33803},
{"i":459,"o":1.33806,"h":1.33830,"l":1.33705,"c":1.33739},
{"i":460,"o":1.33739,"h":1.33841,"l":1.33728,"c":1.33830},
{"i":461,"o":1.33830,"h":1.33888,"l":1.33808,"c":1.33850},
{"i":462,"o":1.33851,"h":1.33888,"l":1.33845,"c":1.33886},
{"i":463,"o":1.33886,"h":1.33946,"l":1.33885,"c":1.33917},
{"i":464,"o":1.33917,"h":1.33948,"l":1.33905,"c":1.33938},
{"i":465,"o":1.33938,"h":1.33958,"l":1.33931,"c":1.33937},
{"i":466,"o":1.33937,"h":1.33997,"l":1.33935,"c":1.33986},
{"i":467,"o":1.33985,"h":1.34026,"l":1.33981,"c":1.34008},
{"i":468,"o":1.34008,"h":1.34028,"l":1.33966,"c":1.33971},
{"i":469,"o":1.33971,"h":1.34046,"l":1.33957,"c":1.34013},
{"i":470,"o":1.34013,"h":1.34028,"l":1.34005,"c":1.34015},
{"i":471,"o":1.33999,"h":1.34045,"l":1.33923,"c":1.34028},
{"i":472,"o":1.34028,"h":1.34033,"l":1.33990,"c":1.33993},
{"i":473,"o":1.33993,"h":1.33998,"l":1.33985,"c":1.33995},
{"i":474,"o":1.33995,"h":1.34013,"l":1.33991,"c":1.33994},
{"i":475,"o":1.33999,"h":1.34038,"l":1.33997,"c":1.34033},
{"i":476,"o":1.34033,"h":1.34035,"l":1.34013,"c":1.34017},
{"i":477,"o":1.34017,"h":1.34026,"l":1.34005,"c":1.34019},
{"i":478,"o":1.34015,"h":1.34068,"l":1.34011,"c":1.34051},
{"i":479,"o":1.34053,"h":1.34055,"l":1.34030,"c":1.34033},
{"i":480,"o":1.34035,"h":1.34038,"l":1.33983,"c":1.34001},
{"i":481,"o":1.33999,"h":1.34010,"l":1.33995,"c":1.34008},
{"i":482,"o":1.34008,"h":1.34011,"l":1.33978,"c":1.33993},
{"i":483,"o":1.33991,"h":1.34041,"l":1.33990,"c":1.34038},
{"i":484,"o":1.34035,"h":1.34081,"l":1.34033,"c":1.34066},
{"i":485,"o":1.34066,"h":1.34119,"l":1.34061,"c":1.34115},
{"i":486,"o":1.34115,"h":1.34118,"l":1.34066,"c":1.34085},
{"i":487,"o":1.34085,"h":1.34178,"l":1.34081,"c":1.34143},
{"i":488,"o":1.34143,"h":1.34168,"l":1.34128,"c":1.34155},
{"i":489,"o":1.34155,"h":1.34159,"l":1.34095,"c":1.34097},
{"i":490,"o":1.34101,"h":1.34105,"l":1.34066,"c":1.34085},
{"i":491,"o":1.34083,"h":1.34101,"l":1.34046,"c":1.34098},
{"i":492,"o":1.34097,"h":1.34111,"l":1.34073,"c":1.34110},
{"i":493,"o":1.34108,"h":1.34155,"l":1.34105,"c":1.34151},
{"i":494,"o":1.34151,"h":1.34173,"l":1.34145,"c":1.34147},
{"i":495,"o":1.34148,"h":1.34168,"l":1.34085,"c":1.34086},
{"i":496,"o":1.34088,"h":1.34118,"l":1.34068,"c":1.34115},
{"i":497,"o":1.34113,"h":1.34146,"l":1.34111,"c":1.34143},
{"i":498,"o":1.34141,"h":1.34153,"l":1.34123,"c":1.34133},
{"i":499,"o":1.34131,"h":1.34141,"l":1.34121,"c":1.34125},
{"i":500,"o":1.34125,"h":1.34145,"l":1.34105,"c":1.34106},
{"i":501,"o":1.34108,"h":1.34110,"l":1.34068,"c":1.34085},
{"i":502,"o":1.34088,"h":1.34111,"l":1.34086,"c":1.34108},
{"i":503,"o":1.34106,"h":1.34153,"l":1.34105,"c":1.34151},
{"i":504,"o":1.34151,"h":1.34153,"l":1.34103,"c":1.34105},
{"i":505,"o":1.34110,"h":1.34111,"l":1.34066,"c":1.34091},
{"i":506,"o":1.34090,"h":1.34091,"l":1.34041,"c":1.34043},
{"i":507,"o":1.34050,"h":1.34055,"l":1.33881,"c":1.33918},
{"i":508,"o":1.33918,"h":1.33938,"l":1.33728,"c":1.33739},
{"i":509,"o":1.33730,"h":1.33765,"l":1.33661,"c":1.33675},
{"i":510,"o":1.33675,"h":1.33678,"l":1.33577,"c":1.33639},
{"i":511,"o":1.33641,"h":1.33723,"l":1.33605,"c":1.33678},
{"i":512,"o":1.33678,"h":1.33681,"l":1.33551,"c":1.33568},
{"i":513,"o":1.33568,"h":1.33628,"l":1.33501,"c":1.33548},
{"i":514,"o":1.33548,"h":1.33551,"l":1.33510,"c":1.33528},
{"i":515,"o":1.33528,"h":1.33531,"l":1.33473,"c":1.33519},
{"i":516,"o":1.33519,"h":1.33586,"l":1.33515,"c":1.33525},
{"i":517,"o":1.33525,"h":1.33638,"l":1.33430,"c":1.33619},
{"i":518,"o":1.33619,"h":1.33621,"l":1.33545,"c":1.33618},
{"i":519,"o":1.33618,"h":1.33731,"l":1.33586,"c":1.33679},
{"i":520,"o":1.33679,"h":1.33778,"l":1.33645,"c":1.33775},
{"i":521,"o":1.33766,"h":1.33866,"l":1.33738,"c":1.33825},
{"i":522,"o":1.33825,"h":1.33883,"l":1.33818,"c":1.33865},
{"i":523,"o":1.33865,"h":1.33895,"l":1.33848,"c":1.33871},
{"i":524,"o":1.33865,"h":1.33868,"l":1.33788,"c":1.33835},
{"i":525,"o":1.33835,"h":1.33838,"l":1.33757,"c":1.33771},
{"i":526,"o":1.33771,"h":1.33821,"l":1.33685,"c":1.33691},
{"i":527,"o":1.33695,"h":1.33698,"l":1.33583,"c":1.33665},
{"i":528,"o":1.33665,"h":1.33735,"l":1.33655,"c":1.33733},
{"i":529,"o":1.33731,"h":1.33790,"l":1.33723,"c":1.33775},
{"i":530,"o":1.33787,"h":1.33818,"l":1.33778,"c":1.33779}
]},
"layer":[
{"data":{"name":"seps"},"mark":{"type":"rule","color":"#d8d8d8","strokeWidth":1,"strokeDash":[3,3]},
"encoding":{"x":{"field":"i","type":"quantitative","title":null,"scale":{"domain":[-0.375,532.875],"nice":false,"zero":false},
"axis":{"orient":"bottom","values":[0,16,32,48,64,80,96,112,128,144,160,176,192,208,224,240,256,272,288,304,320,336,352,368,384,400,416,432,448,464,480,496,512,524.4],
"labelExpr":"['2 Oct 2025','2 Oct 06:15','2 Oct 10:15','2 Oct 14:15','2 Oct 18:15','2 Oct 22:15','3 Oct 02:15','3 Oct 06:15','3 Oct 10:15','3 Oct 14:15','3 Oct 18:15','3 Oct 22:15','6 Oct 02:15','6 Oct 06:15','6 Oct 10:15','6 Oct 14:15','6 Oct 18:15','6 Oct 22:15','7 Oct 02:15','7 Oct 06:15','7 Oct 10:15','7 Oct 14:15','7 Oct 18:15','7 Oct 22:15','8 Oct 02:15','8 Oct 06:15','8 Oct 10:15','8 Oct 14:15','8 Oct 18:15','8 Oct 22:15','9 Oct 02:15','9 Oct 06:15','9 Oct 10:15','9 Oct 14:15'][round(datum.value/16)]",
"tickSize":3,"labelPadding":1,"labelAlign":"left","labelBaseline":"top","labelFlush":false,"labelOverlap":false,"labelBound":false,"labelFontSize":9}}}},
{"data":{"name":"bars"},"mark":{"type":"rule","color":"#00ff00","strokeWidth":1},
"encoding":{"x":{"field":"i","type":"quantitative","title":null,"scale":{"domain":[-0.375,532.875],"nice":false,"zero":false}},
"y":{"field":"l","type":"quantitative","title":null,"scale":{"domain":[1.33384,1.35154],"nice":false,"zero":false},
"axis":{"orient":"right","values":[1.35135,1.35065,1.34995,1.34925,1.34855,1.34785,1.34715,1.34645,1.34575,1.34505,1.34435,1.34365,1.34295,1.34225,1.34155,1.34085,1.34015,1.33945,1.33875,1.33805,1.33735,1.33665,1.33595,1.33525,1.33455,1.33385],"tickSize":3,"labels":false}},
"y2":{"field":"h"}}},
{"data":{"name":"bars"},"mark":{"type":"bar","orient":"vertical","size":2,"stroke":"#00ff00","strokeWidth":1},
"encoding":{"x":{"field":"i","type":"quantitative","title":null,"scale":{"domain":[-0.375,532.875],"nice":false,"zero":false}},
"y":{"field":"o","type":"quantitative","title":null,"scale":{"domain":[1.33384,1.35154],"nice":false,"zero":false}},
"y2":{"field":"c"},
"fill":{"condition":{"test":"datum.c < datum.o","value":"#ffffff"},"value":"#000000"}}},
{"data":{"name":"last"},"mark":{"type":"rule","color":"#778899","strokeWidth":1},
"encoding":{"y":{"field":"p","type":"quantitative","title":null,"scale":{"domain":[1.33384,1.35154],"nice":false,"zero":false}}}},
{"data":{"name":"note"},"mark":{"type":"text","align":"left","baseline":"middle","color":"#ff0000","font":"Noto Sans Mono CJK JP, Noto Sans CJK JP","fontSize":13.8},
"encoding":{"x":{"datum":2.0,"type":"quantitative","title":null,"scale":{"domain":[-0.375,532.875],"nice":false,"zero":false}},
"y":{"datum":1.35088,"type":"quantitative","title":null,"scale":{"domain":[1.33384,1.35154],"nice":false,"zero":false}},
"text":{"field":"t","type":"nominal"}}},
{"data":{"name":"sig"},"transform":[{"filter":"datum.k == 'dot'"}],"mark":{"type":"point","shape":"circle","filled":true,"size":361,"color":"#ffff00","opacity":1,"stroke":"#c8b400","strokeWidth":0.6},
"encoding":{"x":{"field":"i","type":"quantitative","title":null,"scale":{"domain":[-0.375,532.875],"nice":false,"zero":false}},
"y":{"field":"p","type":"quantitative","title":null,"scale":{"domain":[1.33384,1.35154],"nice":false,"zero":false}}}},
{"data":{"name":"sig"},"transform":[{"filter":"datum.k == 'hollowdown'"}],"mark":{"type":"point","shape":"M-0.35,-1L0.35,-1L0.35,0.15L0.85,0.15L0,1L-0.85,0.15L-0.35,0.15Z","filled":false,"size":225,"stroke":"#ff00ff","strokeWidth":1.4,"opacity":1},
"encoding":{"x":{"field":"i","type":"quantitative","title":null,"scale":{"domain":[-0.375,532.875],"nice":false,"zero":false}},
"y":{"field":"p","type":"quantitative","title":null,"scale":{"domain":[1.33384,1.35154],"nice":false,"zero":false}}}},
{"data":{"name":"sig"},"transform":[{"filter":"datum.k == 'down'"}],"mark":{"type":"point","shape":"M-0.22,-1L0.22,-1L0.22,0.3L0.7,-0.18L0.95,0.08L0,1L-0.95,0.08L-0.7,-0.18L-0.22,0.3Z","filled":true,"size":361,"color":"#ff4500","opacity":1},
"encoding":{"x":{"field":"i","type":"quantitative","title":null,"scale":{"domain":[-0.375,532.875],"nice":false,"zero":false}},
"y":{"field":"p","type":"quantitative","title":null,"scale":{"domain":[1.33384,1.35154],"nice":false,"zero":false}}}},
{"data":{"name":"sig"},"transform":[{"filter":"datum.k == 'up'"}],"mark":{"type":"point","shape":"M-0.22,1L0.22,1L0.22,-0.3L0.7,0.18L0.95,-0.08L0,-1L-0.95,-0.08L-0.7,0.18L-0.22,-0.3Z","filled":true,"size":289,"color":"#1e90ff","opacity":1},
"encoding":{"x":{"field":"i","type":"quantitative","title":null,"scale":{"domain":[-0.375,532.875],"nice":false,"zero":false}},
"y":{"field":"p","type":"quantitative","title":null,"scale":{"domain":[1.33384,1.35154],"nice":false,"zero":false}}}},
{"data":{"name":"sig"},"transform":[{"filter":"datum.k == 'hollowup'"}],"mark":{"type":"point","shape":"M-0.3,1L0.3,1L0.3,-0.1L0.75,-0.1L0,-1L-0.75,-0.1L-0.3,-0.1Z","filled":false,"size":256,"stroke":"#20b020","strokeWidth":1.3,"opacity":1},
"encoding":{"x":{"field":"i","type":"quantitative","title":null,"scale":{"domain":[-0.375,532.875],"nice":false,"zero":false}},
"y":{"field":"p","type":"quantitative","title":null,"scale":{"domain":[1.33384,1.35154],"nice":false,"zero":false}}}},
{"data":{"name":"yt"},"mark":{"type":"text","align":"left","baseline":"middle","color":"#ffffff","font":"Liberation Sans","fontSize":9},
"encoding":{"x":{"datum":534.0,"type":"quantitative","title":null,"scale":{"domain":[-0.375,532.875],"nice":false,"zero":false}},
"y":{"field":"v","type":"quantitative","title":null,"scale":{"domain":[1.33384,1.35154],"nice":false,"zero":false}},
"text":{"field":"v","type":"quantitative","format":".5f"}}},
{"data":{"name":"last"},"mark":{"type":"bar","orient":"horizontal","size":11,"color":"#ffffff"},
"encoding":{"x":{"datum":533.4,"type":"quantitative","title":null,"scale":{"domain":[-0.375,532.875],"nice":false,"zero":false}},"x2":{"datum":546},
"y":{"field":"p","type":"quantitative","title":null,"scale":{"domain":[1.33384,1.35154],"nice":false,"zero":false}}}},
{"data":{"name":"last"},"mark":{"type":"text","align":"left","baseline":"middle","color":"#000000","font":"Liberation Sans","fontSize":9},
"encoding":{"x":{"datum":534.2,"type":"quantitative","title":null,"scale":{"domain":[-0.375,532.875],"nice":false,"zero":false}},
"y":{"field":"p","type":"quantitative","title":null,"scale":{"domain":[1.33384,1.35154],"nice":false,"zero":false}},
"text":{"field":"p","type":"quantitative","format":".5f"}}}
]
}
